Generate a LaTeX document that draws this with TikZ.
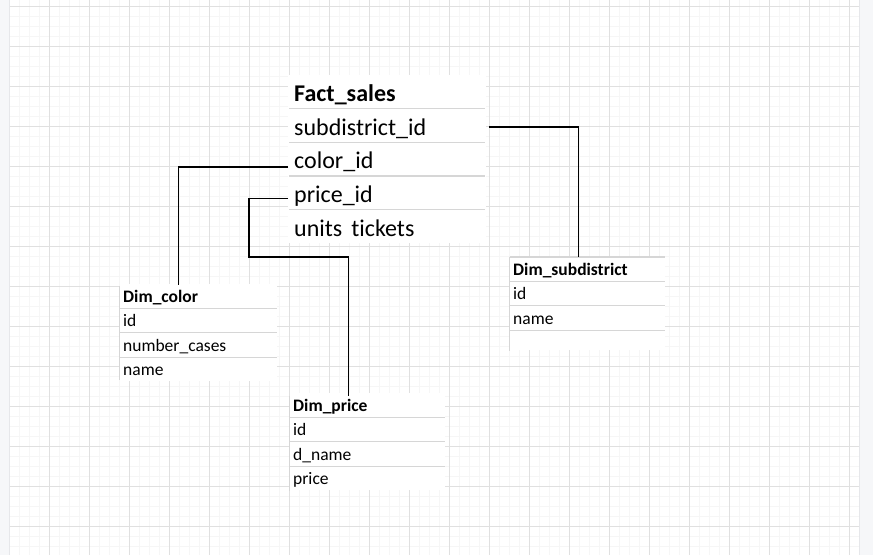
\documentclass[tikz,border=0pt]{standalone}
\usepackage{fontspec}
\setmainfont{Carlito}[Ligatures=NoCommon]
\usetikzlibrary{positioning}

\definecolor{gridmajor}{HTML}{E0E0E0}
\definecolor{gridminor}{HTML}{F6F6F6}
\definecolor{panel}{HTML}{F6F7F9}
\definecolor{panelline}{HTML}{E6E7EA}
\definecolor{sepline}{HTML}{D6D6D6}

\tikzset{
 factrow/.style={rectangle, fill=white, inner sep=0pt, inner xsep=6pt,
  text width=186pt, align=left, text height=26.3pt, text depth=7pt,
  font=\fontsize{24}{28}\selectfont},
 facthead/.style={factrow, font=\fontsize{24}{28}\selectfont\bfseries},
 dimrow/.style={rectangle, fill=white, inner sep=0pt, inner xsep=3.5pt,
  text width=148pt, align=left, text height=18pt, text depth=6pt,
  font=\fontsize{17.5}{21}\selectfont},
 dimhead/.style={dimrow, font=\fontsize{17.5}{21}\selectfont\bfseries},
 sep/.style={draw=sepline, line width=1.3pt},
 link/.style={draw=black, line width=1.2pt}
}

\begin{document}
\begin{tikzpicture}[x=1pt,y=-1pt]
 \useasboundingbox (0,0) rectangle (873,555);
 % sheet and grid
 \fill[panel] (0,0) rectangle (873,555);
 \fill[white] (10,0) rectangle (859,555);
 \foreach \x in {19,29,...,858} \draw[gridminor, line width=1pt] (\x,0) -- (\x,555);
 \foreach \y in {16,26,...,555} \draw[gridminor, line width=1pt] (10,\y) -- (859,\y);
 \foreach \x in {49,89,...,849} \draw[gridmajor, line width=1pt] (\x,0) -- (\x,555);
 \foreach \y in {6,46,...,546} \draw[gridmajor, line width=1pt] (10,\y) -- (859,\y);
 \draw[panelline, line width=1pt] (9.5,0) -- (9.5,555);
 \draw[panelline, line width=1pt] (859.5,0) -- (859.5,555);

 % fact table
 \node[facthead, anchor=north west] (factHead) at (288,75) {Fact\_sales};
 \node[factrow, below=0pt of factHead] (factSubd) {subdistrict\_id};
 \node[factrow, below=0pt of factSubd] (factColor) {color\_id};
 \node[factrow, below=0pt of factColor] (factPrice) {price\_id};
 \node[factrow, below=0pt of factPrice] (factUnits) {units\hspace{9pt}tickets};
 \foreach \n in {factHead,factSubd,factColor,factPrice}
  \draw[sep] ([xshift=1pt]\n.south west) -- ([xshift=-1pt]\n.south east);

 % Dim_color
 \node[dimhead, text width=150pt, anchor=north west] (colorHead) at (119.5,284) {Dim\_color};
 \node[dimrow, text width=150pt, below=0pt of colorHead] (colorId) {id};
 \node[dimrow, text width=150pt, below=0pt of colorId] (colorCases) {number\_cases};
 \node[dimrow, text width=150pt, below=0pt of colorCases] (colorName) {name};
 \foreach \n in {colorHead,colorId,colorCases}
  \draw[sep] (\n.south west) -- (\n.south east);
 \draw[sep] ([yshift=-2pt]colorHead.north west) -- ([yshift=2pt]colorName.south west);

 % Dim_price
 \node[dimhead, anchor=north west] (priceHead) at (289.5,393) {Dim\_price};
 \node[dimrow, below=0pt of priceHead] (priceId) {id};
 \node[dimrow, below=0pt of priceId] (priceDname) {d\_name};
 \node[dimrow, below=0pt of priceDname] (pricePrice) {price};
 \foreach \n in {priceHead,priceId,priceDname}
  \draw[sep] (\n.south west) -- (\n.south east);
 \draw[sep] ([yshift=-3pt]priceHead.north west) -- (pricePrice.south west);

 % Dim_subdistrict
 \node[dimhead, anchor=north west] (subdHead) at (509.5,257) {Dim\_subdistrict};
 \node[dimrow, below=0pt of subdHead] (subdId) {id};
 \node[dimrow, below=0pt of subdId] (subdName) {name};
 \node[dimrow, text height=14pt, below=0pt of subdName] (subdEnd) {};
 \foreach \n in {subdHead,subdId,subdName}
  \draw[sep] (\n.south west) -- (\n.south east);
 \draw[sep] (subdHead.north west) -- (subdHead.north east);
 \draw[sep] (subdHead.north west) -- (subdEnd.south west);

 % links
 \coordinate (priceBend) at (249,257);
 \draw[link] ([xshift=3pt,yshift=-1.5pt]factSubd.east) -| ([xshift=-8.5pt]subdHead.north);
 \draw[link] ([yshift=-7.7pt]factColor.west) -| ([xshift=-19.5pt,yshift=-1pt]colorHead.north);
 \draw[link] ([yshift=-5.4pt]factPrice.west) -| (priceBend) -| ([xshift=-18.5pt,yshift=-3pt]priceHead.north);
\end{tikzpicture}
\end{document}
